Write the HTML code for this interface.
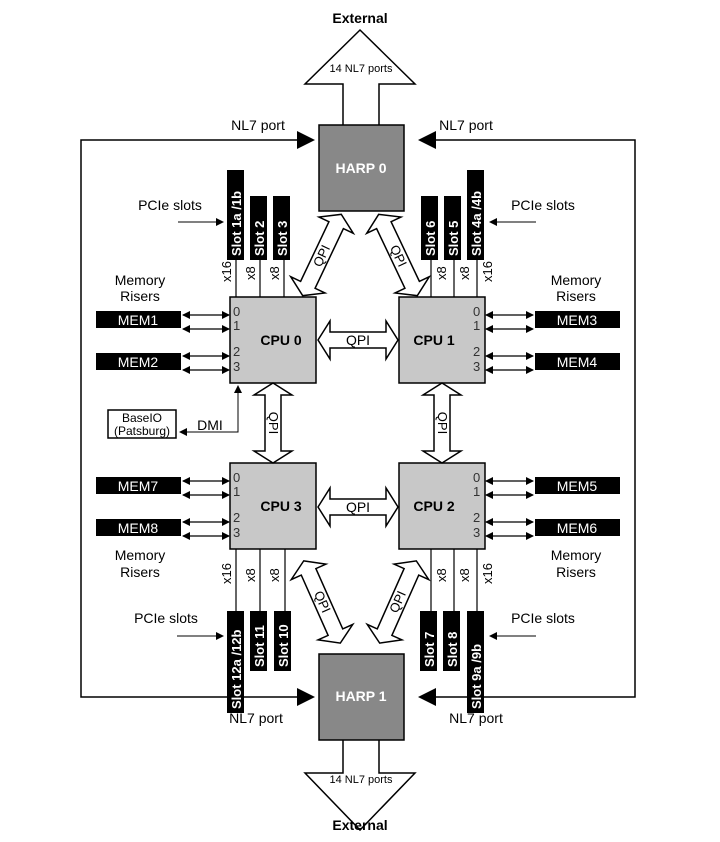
<!DOCTYPE html>
<html><head><meta charset="utf-8"><style>
html,body{margin:0;padding:0;background:#fff;}
svg{display:block;font-family:"Liberation Sans",Arial,sans-serif;}
</style></head><body>
<svg width="720" height="842" viewBox="0 0 720 842" xmlns="http://www.w3.org/2000/svg">
<defs>
<marker id="ah" markerWidth="8" markerHeight="8" refX="7" refY="4" orient="auto" markerUnits="userSpaceOnUse"><path d="M0,0 L8,4 L0,8 z" fill="#000"/></marker>
<marker id="as" markerWidth="8" markerHeight="8" refX="1" refY="4" orient="auto" markerUnits="userSpaceOnUse"><path d="M8,0 L0,4 L8,8 z" fill="#000"/></marker>
<g id="dbl"><polygon points="-40,0 -28,-19 -28,-8 28,-8 28,-19 40,0 28,19 28,8 -28,8 -28,19" fill="#fff" stroke="#000" stroke-width="1.5"/></g>
<g id="dbld"><polygon points="-45,0 -33,-19 -33,-8 33,-8 33,-19 45,0 33,19 33,8 -33,8 -33,19" fill="#fff" stroke="#000" stroke-width="1.5"/></g>
</defs>

<!-- outer loop lines -->
<polyline points="300,140 81,140 81,697 300,697" fill="none" stroke="#000" stroke-width="1.5"/>
<polyline points="420,140 635,140 635,697 420,697" fill="none" stroke="#000" stroke-width="1.5"/>
<polygon points="297,131 315,140 297,149" fill="#000"/>
<polygon points="436,131 418,140 436,149" fill="#000"/>
<polygon points="297,688 315,697 297,706" fill="#000"/>
<polygon points="436,688 418,697 436,706" fill="#000"/>
<text x="258" y="130" font-size="14" text-anchor="middle">NL7 port</text>
<text x="466" y="130" font-size="14" text-anchor="middle">NL7 port</text>
<text x="256" y="723" font-size="14" text-anchor="middle">NL7 port</text>
<text x="476" y="723" font-size="14" text-anchor="middle">NL7 port</text>

<!-- External arrows -->
<polygon points="360,30 415,84 379,84 379,131 343,131 343,84 305,84" fill="#fff" stroke="#000" stroke-width="1.5"/>
<text x="360" y="23" font-size="14" font-weight="bold" text-anchor="middle">External</text>
<text x="361" y="72" font-size="11" text-anchor="middle">14 NL7 ports</text>
<polygon points="343,730 379,730 379,773 415,773 360,830 305,773 343,773" fill="#fff" stroke="#000" stroke-width="1.5"/>
<text x="360" y="830" font-size="14" font-weight="bold" text-anchor="middle" dy="0">External</text>
<text x="361" y="783" font-size="11" text-anchor="middle">14 NL7 ports</text>

<!-- HARP boxes -->
<rect x="319" y="125" width="85" height="86" fill="#888" stroke="#000" stroke-width="1.5"/>
<text x="361" y="173" font-size="14" font-weight="bold" fill="#fff" text-anchor="middle">HARP 0</text>
<rect x="319" y="654" width="85" height="86" fill="#888" stroke="#000" stroke-width="1.5"/>
<text x="361" y="701" font-size="14" font-weight="bold" fill="#fff" text-anchor="middle">HARP 1</text>

<!-- diagonal QPI -->
<g transform="translate(322,255) rotate(115.4)"><use href="#dbld"/></g>
<text transform="translate(322,256) rotate(-64.6)" font-size="13" text-anchor="middle" dy="4">QPI</text>
<g transform="translate(398,255) rotate(64.6)"><use href="#dbld"/></g>
<text transform="translate(398,256) rotate(64.6)" font-size="13" text-anchor="middle" dy="4">QPI</text>
<g transform="translate(322,602) rotate(66)"><use href="#dbld"/></g>
<text transform="translate(322,602) rotate(66)" font-size="13" text-anchor="middle" dy="4">QPI</text>
<g transform="translate(398,602) rotate(114)"><use href="#dbld"/></g>
<text transform="translate(398,602) rotate(-66)" font-size="13" text-anchor="middle" dy="4">QPI</text>

<!-- CPUs -->
<g font-size="14">
<rect x="230" y="297" width="86" height="86" fill="#c8c8c8" stroke="#000" stroke-width="1.5"/>
<text x="273" y="345" font-weight="bold" text-anchor="middle" dx="8">CPU 0</text>
<rect x="399" y="297" width="86" height="86" fill="#c8c8c8" stroke="#000" stroke-width="1.5"/>
<text x="442" y="345" font-weight="bold" text-anchor="middle" dx="-8">CPU 1</text>
<rect x="230" y="463" width="86" height="86" fill="#c8c8c8" stroke="#000" stroke-width="1.5"/>
<text x="273" y="511" font-weight="bold" text-anchor="middle" dx="8">CPU 3</text>
<rect x="399" y="463" width="86" height="86" fill="#c8c8c8" stroke="#000" stroke-width="1.5"/>
<text x="442" y="511" font-weight="bold" text-anchor="middle" dx="-8">CPU 2</text>
</g>
<g font-size="13" fill="#333">
<text x="233" y="316">0</text><text x="233" y="330">1</text><text x="233" y="356">2</text><text x="233" y="371">3</text>
<text x="473" y="316">0</text><text x="473" y="330">1</text><text x="473" y="356">2</text><text x="473" y="371">3</text>
<text x="233" y="482">0</text><text x="233" y="496">1</text><text x="233" y="522">2</text><text x="233" y="537">3</text>
<text x="473" y="482">0</text><text x="473" y="496">1</text><text x="473" y="522">2</text><text x="473" y="537">3</text>
</g>

<!-- horizontal/vertical QPI -->
<g transform="translate(358,340)"><use href="#dbl"/></g>
<text x="358" y="345" font-size="14" text-anchor="middle">QPI</text>
<g transform="translate(358,507)"><use href="#dbl"/></g>
<text x="358" y="512" font-size="14" text-anchor="middle">QPI</text>
<g transform="translate(273,423) rotate(90)"><use href="#dbl"/></g>
<text transform="translate(273,423) rotate(90)" font-size="13" text-anchor="middle" dy="4">QPI</text>
<g transform="translate(442,423) rotate(90)"><use href="#dbl"/></g>
<text transform="translate(442,423) rotate(90)" font-size="13" text-anchor="middle" dy="4">QPI</text>

<!-- MEM boxes -->
<g font-size="14" fill="#fff" text-anchor="middle">
<rect x="96" y="311" width="85" height="17" fill="#000"/><text x="138" y="325">MEM1</text>
<rect x="96" y="353" width="85" height="17" fill="#000"/><text x="138" y="367">MEM2</text>
<rect x="535" y="311" width="85" height="17" fill="#000"/><text x="577" y="325">MEM3</text>
<rect x="535" y="353" width="85" height="17" fill="#000"/><text x="577" y="367">MEM4</text>
<rect x="96" y="477" width="85" height="17" fill="#000"/><text x="138" y="491">MEM7</text>
<rect x="96" y="519" width="85" height="17" fill="#000"/><text x="138" y="533">MEM8</text>
<rect x="535" y="477" width="85" height="17" fill="#000"/><text x="577" y="491">MEM5</text>
<rect x="535" y="519" width="85" height="17" fill="#000"/><text x="577" y="533">MEM6</text>
</g>
<g stroke="#000" stroke-width="1.2" marker-start="url(#as)" marker-end="url(#ah)">
<line x1="183" y1="315" x2="229" y2="315"/><line x1="183" y1="329" x2="229" y2="329"/>
<line x1="183" y1="356" x2="229" y2="356"/><line x1="183" y1="370" x2="229" y2="370"/>
<line x1="486" y1="315" x2="533" y2="315"/><line x1="486" y1="329" x2="533" y2="329"/>
<line x1="486" y1="356" x2="533" y2="356"/><line x1="486" y1="370" x2="533" y2="370"/>
<line x1="183" y1="481" x2="229" y2="481"/><line x1="183" y1="495" x2="229" y2="495"/>
<line x1="183" y1="522" x2="229" y2="522"/><line x1="183" y1="536" x2="229" y2="536"/>
<line x1="486" y1="481" x2="533" y2="481"/><line x1="486" y1="495" x2="533" y2="495"/>
<line x1="486" y1="522" x2="533" y2="522"/><line x1="486" y1="536" x2="533" y2="536"/>
</g>
<g font-size="14" text-anchor="middle">
<text x="140" y="285">Memory</text><text x="140" y="301">Risers</text>
<text x="576" y="285">Memory</text><text x="576" y="301">Risers</text>
<text x="140" y="560">Memory</text><text x="140" y="577">Risers</text>
<text x="576" y="560">Memory</text><text x="576" y="577">Risers</text>
</g>

<!-- PCIe slots -->
<g fill="#000">
<rect x="227" y="170" width="17" height="90"/><rect x="250" y="196" width="17" height="64"/><rect x="273" y="196" width="17" height="64"/>
<rect x="421" y="196" width="17" height="64"/><rect x="444" y="196" width="17" height="64"/><rect x="467" y="170" width="17" height="90"/>
<rect x="227" y="611" width="17" height="102"/><rect x="250" y="611" width="17" height="60"/><rect x="274" y="611" width="17" height="60"/>
<rect x="420" y="611" width="17" height="60"/><rect x="443" y="611" width="17" height="60"/><rect x="467" y="611" width="17" height="102"/>
</g>
<g stroke="#000" stroke-width="1.2">
<line x1="236" y1="260" x2="236" y2="297"/><line x1="260" y1="260" x2="260" y2="297"/><line x1="284" y1="260" x2="284" y2="297"/>
<line x1="431" y1="260" x2="431" y2="297"/><line x1="454" y1="260" x2="454" y2="297"/><line x1="477" y1="260" x2="477" y2="297"/>
<line x1="236" y1="549" x2="236" y2="611"/><line x1="260" y1="549" x2="260" y2="611"/><line x1="285" y1="549" x2="285" y2="611"/>
<line x1="431" y1="549" x2="431" y2="611"/><line x1="454" y1="549" x2="454" y2="611"/><line x1="477" y1="549" x2="477" y2="611"/>
</g>
<g font-size="13" fill="#fff" font-weight="bold">
<text transform="translate(241,256) rotate(-90)">Slot 1a /1b</text>
<text transform="translate(264,256) rotate(-90)">Slot 2</text>
<text transform="translate(287,256) rotate(-90)">Slot 3</text>
<text transform="translate(435,256) rotate(-90)">Slot 6</text>
<text transform="translate(458,256) rotate(-90)">Slot 5</text>
<text transform="translate(481,256) rotate(-90)">Slot 4a /4b</text>
<text transform="translate(241,709) rotate(-90)">Slot 12a /12b</text>
<text transform="translate(264,667) rotate(-90)">Slot 11</text>
<text transform="translate(288,667) rotate(-90)">Slot 10</text>
<text transform="translate(434,667) rotate(-90)">Slot 7</text>
<text transform="translate(457,667) rotate(-90)">Slot 8</text>
<text transform="translate(481,709) rotate(-90)">Slot 9a /9b</text>
</g>
<g font-size="13">
<text transform="translate(231,282) rotate(-90)">x16</text>
<text transform="translate(255,280) rotate(-90)">x8</text>
<text transform="translate(279,280) rotate(-90)">x8</text>
<text transform="translate(446,280) rotate(-90)">x8</text>
<text transform="translate(469,280) rotate(-90)">x8</text>
<text transform="translate(492,282) rotate(-90)">x16</text>
<text transform="translate(231,584) rotate(-90)">x16</text>
<text transform="translate(255,582) rotate(-90)">x8</text>
<text transform="translate(279,582) rotate(-90)">x8</text>
<text transform="translate(446,582) rotate(-90)">x8</text>
<text transform="translate(469,582) rotate(-90)">x8</text>
<text transform="translate(492,584) rotate(-90)">x16</text>
</g>
<g font-size="14" text-anchor="middle">
<text x="170" y="210">PCIe slots</text><text x="543" y="210">PCIe slots</text>
<text x="166" y="623">PCIe slots</text><text x="543" y="623">PCIe slots</text>
</g>
<g stroke="#000" stroke-width="1" marker-end="url(#ah)">
<line x1="178" y1="222" x2="223" y2="222"/><line x1="536" y1="222" x2="490" y2="222"/>
<line x1="177" y1="636" x2="223" y2="636"/><line x1="536" y1="636" x2="490" y2="636"/>
</g>

<!-- BaseIO / DMI -->
<rect x="108" y="410" width="68" height="28" fill="#fff" stroke="#000" stroke-width="1.5"/>
<text x="142" y="422" font-size="12" text-anchor="middle">BaseIO</text>
<text x="142" y="435" font-size="12" text-anchor="middle">(Patsburg)</text>
<text x="210" y="430" font-size="14" text-anchor="middle">DMI</text>
<polyline points="238,388 238,432 180,432" fill="none" stroke="#000" stroke-width="1" marker-end="url(#ah)"/>
<polygon points="234,393 238,385 242,393" fill="#000"/>
</svg>
</body></html>
